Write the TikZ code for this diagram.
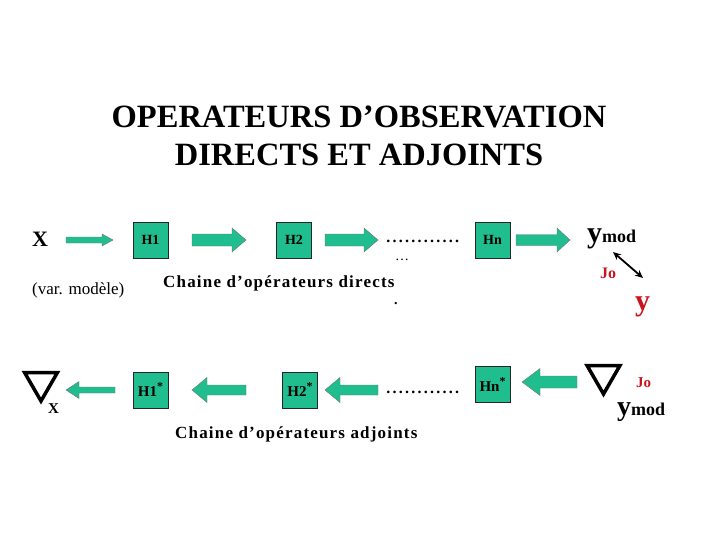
\documentclass[tikz,border=0pt]{standalone}
\usepackage{fontspec}
\setmainfont{Liberation Serif}
\usepackage{xcolor}
\usetikzlibrary{shapes.geometric, positioning, calc, arrows.meta}

\definecolor{opgreen}{RGB}{32,190,142}
\definecolor{jored}{RGB}{200,20,30}

\newcommand\fs[1]{\fontsize{#1}{#1}\selectfont}
\newcommand\opdots{\makebox[75pt]{\xleaders\hbox to 6.25pt{\hss.\hss}\hfill}}
% block arrow: tail, tip, half body, half head, head length
\newcommand\blockarr[5]{%
  \path[blockarrow] let \p1=(#1), \p2=(#2), \n1={sign(\x2-\x1)} in
    (\x1,\y1+#3) -- (\x2-\n1*#5,\y1+#3) -- (\x2-\n1*#5,\y1+#4) -- (\x2,\y2)
    -- (\x2-\n1*#5,\y1-#4) -- (\x2-\n1*#5,\y1-#3) -- (\x1,\y1-#3) -- cycle;}

\tikzset{
  opbox/.style={draw=black!85, fill=opgreen, minimum width=35pt, minimum height=36pt,
    inner sep=0pt, font=\bfseries\fs{14}},
  adjbox/.style={opbox, font=\bfseries\fs{15}},
  blockarrow/.style={draw=black!55, fill=opgreen, line width=0.4pt},
  gradtri/.style={regular polygon, regular polygon sides=3, shape border rotate=180,
    draw, line width=3.5pt, minimum size=38pt, inner sep=0pt},
  jolink/.style={{Stealth[length=8pt,width=7pt]}-{Stealth[length=8pt,width=7pt]}, line width=1.8pt},
  txt/.style={inner sep=0pt, anchor=base west},
  chain/.style={txt, font=\bfseries\fs{17}\addfontfeature{LetterSpace=7}},
}

\begin{document}
\begin{tikzpicture}[x=1pt, y=-1pt]
  \useasboundingbox (0,0) rectangle (720,540);

  % Title
  \node[inner sep=0pt, anchor=base, font=\bfseries\fs{32.5}] (title1) at (359,128) {OPERATEURS D’OBSERVATION};
  \node[inner sep=0pt, anchor=base, font=\bfseries\fs{32.5}] (title2) at (359,166) {DIRECTS ET ADJOINTS};

  % Direct chain
  \node[txt, font=\bfseries\fs{22}] (x) at (32,247) {X};
  \node[opbox] (h1) at (150.5,240) {H1};
  \node[opbox] (h2) at (294,240) {H2};
  \node[txt, font=\bfseries\fs{16}] (dots1) at (385,243) {\opdots};
  \node[txt, font=\fs{14}] (ell) at (395,260) {…};
  \node[opbox] (hn) at (492.5,240) {Hn};
  \node[txt, font=\bfseries] (ymod) at (587,243) {{\fs{30}y}{\fs{18}mod}};
  \node[txt, font=\bfseries\fs{16}, text=jored] (jo1) at (600,278) {Jo};
  \node[txt, font=\bfseries\fs{30}, text=jored] (yobs) at (635,310) {y};

  \node[txt, font=\fs{17}] (varmod) at (32,294) {(var. modèle)};
  \node[chain] (chdir) at (163,287) {Chaine d’opérateurs directs};
  \node[txt, font=\bfseries\fs{14}] (point) at (394,304) {.};

  % Adjoint chain
  \node[gradtri] (gradx) at (41,382) {};
  \node[txt, font=\bfseries\fs{15}] (subx) at (48,413) {X};
  \node[adjbox] (h1a) at (150.5,390) {H1\raisebox{6pt}{\fs{12}*}};
  \node[adjbox] (h2a) at (300,390) {H2\raisebox{6pt}{\fs{12}*}};
  \node[txt, font=\bfseries\fs{16}] (dots2) at (385,393) {\opdots};
  \node[adjbox] (hna) at (492.5,384.5) {Hn\raisebox{6pt}{\fs{12}*}};
  \node[gradtri] (grady) at (603.5,375) {};
  \node[txt, font=\bfseries\fs{15}, text=jored] (jo2) at (636,387) {Jo};
  \node[txt, font=\bfseries] (ymod2) at (617,415) {{\fs{28}y}{\fs{18}mod}};
  \node[chain] (chadj) at (175,438) {Chaine d’opérateurs adjoints};

  % Arrow ends
  \coordinate (a1s) at (66,240);   \coordinate (a1e) at (113,240);
  \coordinate (a2s) at (192,240);  \coordinate (a2e) at (246,240);
  \coordinate (a3s) at (325,240);  \coordinate (a3e) at (378,240);
  \coordinate (a4s) at (516,240);  \coordinate (a4e) at (570,240);
  \coordinate (b1s) at (115,390);  \coordinate (b1e) at (66,390);
  \coordinate (b2s) at (246,390);  \coordinate (b2e) at (192,390);
  \coordinate (b3s) at (378,390);  \coordinate (b3e) at (325,390);
  \coordinate (b4s) at (577,382);  \coordinate (b4e) at (522,382);
  \coordinate (jos) at (613,252);  \coordinate (joe) at (643,278);

  % Connect the nodes
  \blockarr{a1s}{a1e}{3pt}{6pt}{11pt}
  \blockarr{a2s}{a2e}{6pt}{12pt}{14pt}
  \blockarr{a3s}{a3e}{6pt}{12pt}{14pt}
  \blockarr{a4s}{a4e}{5.5pt}{12pt}{13pt}
  \blockarr{b1s}{b1e}{3pt}{8.5pt}{13pt}
  \blockarr{b2s}{b2e}{5pt}{12.5pt}{15pt}
  \blockarr{b3s}{b3e}{5pt}{12.5pt}{15pt}
  \blockarr{b4s}{b4e}{6pt}{13.5pt}{18pt}
  \draw[jolink] (jos) -- (joe);
\end{tikzpicture}
\end{document}
